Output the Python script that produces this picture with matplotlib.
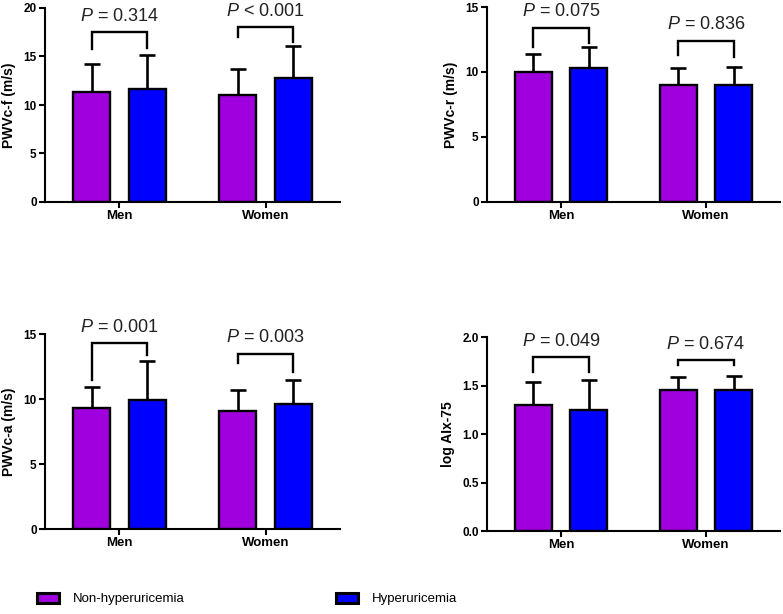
import matplotlib.pyplot as plt
from matplotlib.patches import Patch

plt.rcParams['font.family'] = ['Liberation Sans', 'DejaVu Sans']
plt.rcParams['mathtext.fontset'] = 'custom'
plt.rcParams['mathtext.it'] = 'Liberation Sans:italic'
plt.rcParams['mathtext.rm'] = 'Liberation Sans'

groups = ["Men", "Women"]
series_names = ["Non-hyperuricemia", "Hyperuricemia"]
colors = ["#A000DD", "#0000FF"]

# panel data: means and upper error (mean + SD) for [Men, Women]
ylabels = ["PWVc-f (m/s)", "PWVc-r (m/s)", "PWVc-a (m/s)", "log AIx-75"]
ylims = [20, 15, 15, 2.0]
yticks = [[0, 5, 10, 15, 20], [0, 5, 10, 15], [0, 5, 10, 15],
          [0.0, 0.5, 1.0, 1.5, 2.0]]
ytick_fmt = ["{:.0f}", "{:.0f}", "{:.0f}", "{:.1f}"]

non_mean = [[11.3, 11.0], [10.0, 9.0], [9.3, 9.1], [1.30, 1.45]]
non_sd = [[2.9, 2.7], [1.4, 1.3], [1.6, 1.6], [0.24, 0.14]]
hyp_mean = [[11.6, 12.8], [10.3, 9.0], [9.9, 9.6], [1.25, 1.45]]
hyp_sd = [[3.6, 3.3], [1.6, 1.4], [3.0, 1.9], [0.31, 0.15]]

p_labels = [["= 0.314", "< 0.001"], ["= 0.075", "= 0.836"],
            ["= 0.001", "= 0.003"], ["= 0.049", "= 0.674"]]
# bracket top, left leg end, right leg end
br_top = [[17.5, 18.0], [13.4, 12.4], [14.3, 13.5], [1.79, 1.76]]
br_left = [[15.8, 17.0], [11.9, 11.3], [11.5, 12.8], [1.64, 1.71]]
br_right = [[15.9, 16.5], [12.2, 11.15], [13.4, 12.1], [1.64, 1.71]]

W, H = 783, 614
fig = plt.figure(figsize=(W / 100, H / 100), dpi=100)

# pixel boxes: left, right, top(y of ymax), bottom(y of zero)
boxes = [(45, 340, 8, 202), (487, 780, 7, 202),
         (45, 340, 334, 529), (487, 780, 337, 531)]

bw = 0.255
off = 0.19

for i in range(4):
    l, r, t, b = boxes[i]
    ax = fig.add_axes([l / W, 1 - b / H, (r - l) / W, (b - t) / H])
    xs = [0, 1]
    for s, (m, sd) in enumerate([(non_mean[i], non_sd[i]), (hyp_mean[i], hyp_sd[i])]):
        xp = [x + (off if s else -off) for x in xs]
        ax.bar(xp, m, width=bw, color=colors[s], edgecolor='black',
               linewidth=1.7, zorder=2)
        ax.errorbar(xp, m, yerr=[[0, 0], sd], fmt='none', ecolor='black',
                    elinewidth=1.9, capsize=6, capthick=1.9, zorder=1)
    for g in range(2):
        x0, x1 = g - off, g + off
        ax.plot([x0, x0, x1, x1],
                [br_left[i][g], br_top[i][g], br_top[i][g], br_right[i][g]],
                color='black', lw=1.7, solid_joinstyle='miter', clip_on=False)
        ax.annotate(r"$\it{P}$ " + p_labels[i][g], (g, br_top[i][g]),
                    xytext=(0, 11.5), textcoords='offset points',
                    ha='center', va='center', fontsize=13, color='#222222',
                    annotation_clip=False)
    ax.set_xlim(-0.51, 1.51)
    ax.set_ylim(0, ylims[i])
    ax.set_yticks(yticks[i])
    ax.set_yticklabels([ytick_fmt[i].format(v) for v in yticks[i]],
                       fontsize=8.5, fontweight='bold')
    ax.set_xticks(xs)
    ax.set_xticklabels(groups, fontsize=9.5, fontweight='bold')
    ax.set_ylabel(ylabels[i], fontsize=10, fontweight='bold', labelpad=5)
    for sp in ['top', 'right']:
        ax.spines[sp].set_visible(False)
    for sp in ['left', 'bottom']:
        ax.spines[sp].set_linewidth(1.5)
    ax.tick_params(axis='both', width=1.5, length=4, pad=2)

for s in range(2):
    x_anchor = [37, 336][s]
    handle = Patch(facecolor=colors[s], edgecolor='black', linewidth=2.2)
    fig.legend([handle], [series_names[s]], loc='center left',
               bbox_to_anchor=(x_anchor / W, 1 - 599 / H), frameon=False,
               borderpad=0, borderaxespad=0, handlelength=1.7, handleheight=0.8,
               handletextpad=1.0, prop={'size': 9.5})

fig.savefig("out.png", dpi=100)
